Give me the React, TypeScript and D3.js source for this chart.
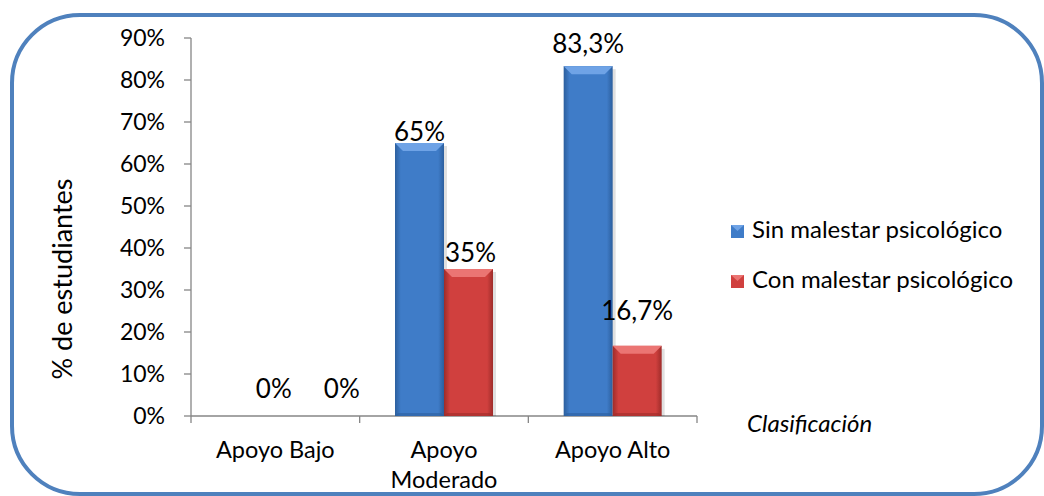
import React from "react";
import * as d3 from "d3";

const categories = ["Apoyo Bajo", "Apoyo Moderado", "Apoyo Alto"];
const categoryLines = [["Apoyo Bajo"], ["Apoyo", "Moderado"], ["Apoyo Alto"]];
const seriesNames = ["Sin malestar psicológico", "Con malestar psicológico"];
const sinMalestar = [0, 65, 83.3];
const conMalestar = [0, 35, 16.7];
const sinLabels = ["0%", "65%", "83,3%"];
const conLabels = ["0%", "35%", "16,7%"];
const yTicks = [0, 10, 20, 30, 40, 50, 60, 70, 80, 90];

const FONT = "Lato, 'Open Sans', sans-serif";

export default function App() {
  const W = 1044, H = 496;
  const x0 = 191, x1 = 697, yTop = 38, yBot = 416;
  const x = d3.scaleBand<string>().domain(categories).range([x0, x1]).paddingInner(0).paddingOuter(0);
  const y = d3.scaleLinear().domain([0, 90]).range([yBot, yTop]);
  const bw = 49;
  const series = [
    { vals: sinMalestar, labels: sinLabels, base: "#3F7CC8", light: "#6FA3E6", dark: "#2C5F9E", id: "b" },
    { vals: conMalestar, labels: conLabels, base: "#D0403E", light: "#EB7573", dark: "#9E2C2A", id: "r" },
  ];
  // label placement offsets (dx from bar center, dy above bar top)
  const labelPos = [
    [{ dx: 23, dy: 18 }, { dx: 0, dy: 2 }, { dx: 0, dy: 13 }],
    [{ dx: 42, dy: 18 }, { dx: 2, dy: 7 }, { dx: 0, dy: 26 }],
  ];
  const axisColor = "#868686";
  return (
    <svg width={W} height={H} style={{ position: "absolute", left: 0, top: 0 }}>
      <defs>
        {series.map((s) => (
          <linearGradient key={s.id} id={"g" + s.id} x1="0" x2="1" y1="0" y2="0">
            <stop offset="0" stopColor={s.dark} />
            <stop offset="0.12" stopColor={s.base} />
            <stop offset="0.88" stopColor={s.base} />
            <stop offset="1" stopColor={s.dark} />
          </linearGradient>
        ))}
      </defs>
      <rect x={0} y={0} width={W} height={H} fill="#fff" />
      <rect x={12} y={15} width={1030} height={479} rx={68} ry={68} fill="#fff" stroke="#4F81BD" strokeWidth={4} />
      {/* y axis */}
      <line x1={x0} x2={x0} y1={yTop} y2={yBot} stroke={axisColor} strokeWidth={1.3} />
      {yTicks.map((t) => (
        <g key={t}>
          <line x1={x0 - 7} x2={x0} y1={y(t)} y2={y(t)} stroke={axisColor} strokeWidth={1.3} />
          <text x={165} y={y(t) + 8} textAnchor="end" fontFamily={FONT} fontSize={23} fill="#000">
            {t + "%"}
          </text>
        </g>
      ))}
      {/* x axis */}
      <line x1={x0} x2={x1} y1={yBot} y2={yBot} stroke={axisColor} strokeWidth={1.3} />
      {[...categories.map((c) => x(c)!), x1].map((v, i) => (
        <line key={i} x1={v} x2={v} y1={yBot} y2={yBot + 7} stroke={axisColor} strokeWidth={1.3} />
      ))}
      {categories.map((c, i) => (
        <text key={c} x={x(c)! + x.bandwidth() / 2} y={458} textAnchor="middle" fontFamily={FONT} fontSize={23.5} fill="#000">
          {categoryLines[i].map((l, j) => (
            <tspan key={j} x={x(c)! + x.bandwidth() / 2} dy={j === 0 ? 0 : 30}>{l}</tspan>
          ))}
        </text>
      ))}
      {/* bars */}
      {categories.map((c, i) => {
        const cx = x(c)! + x.bandwidth() / 2;
        return series.map((s, si) => {
          const bx = cx - bw + si * bw;
          const v = s.vals[i];
          const top = y(v);
          const h = yBot - top;
          const bev = Math.min(8, h / 2);
          const lp = labelPos[si][i];
          return (
            <g key={c + si}>
              {h > 0 && (
                <g>
                  <rect x={bx + 3} y={top + 3} width={bw} height={h - 3} fill="#000" opacity={0.12} />
                  <rect x={bx} y={top} width={bw} height={h} fill={`url(#g${s.id})`} />
                  <polygon points={`${bx},${top} ${bx + bw},${top} ${bx + bw - bev},${top + bev} ${bx + bev},${top + bev}`} fill={s.light} />
                  <polygon points={`${bx},${yBot} ${bx + bw},${yBot} ${bx + bw - 3},${yBot - 3} ${bx + 3},${yBot - 3}`} fill={s.dark} opacity={0.6} />
                </g>
              )}
              <text x={bx + bw / 2 + lp.dx} y={top - lp.dy} textAnchor="middle" fontFamily={FONT} fontSize={26} fill="#000">
                {s.labels[i]}
              </text>
            </g>
          );
        });
      })}
      {/* y title */}
      <text transform={`translate(72,279) rotate(-90)`} textAnchor="middle" fontFamily={FONT} fontSize={27} fill="#000">
        % de estudiantes
      </text>
      {/* legend */}
      {seriesNames.map((n, i) => {
        const s = series[i];
        const ly = 231 + i * 50;
        return (
          <g key={n}>
            <rect x={731} y={ly - 6} width={13} height={13} fill={s.base} />
            <polygon points={`${731},${ly - 6} ${744},${ly - 6} ${737.5},${ly}`} fill={s.light} />
            <text x={752} y={ly + 7} fontFamily={FONT} fontSize={24} fill="#000">{n}</text>
          </g>
        );
      })}
      <text x={747} y={432} fontFamily={FONT} fontSize={24} fontStyle="italic" fill="#000">Clasificación</text>
    </svg>
  );
}
